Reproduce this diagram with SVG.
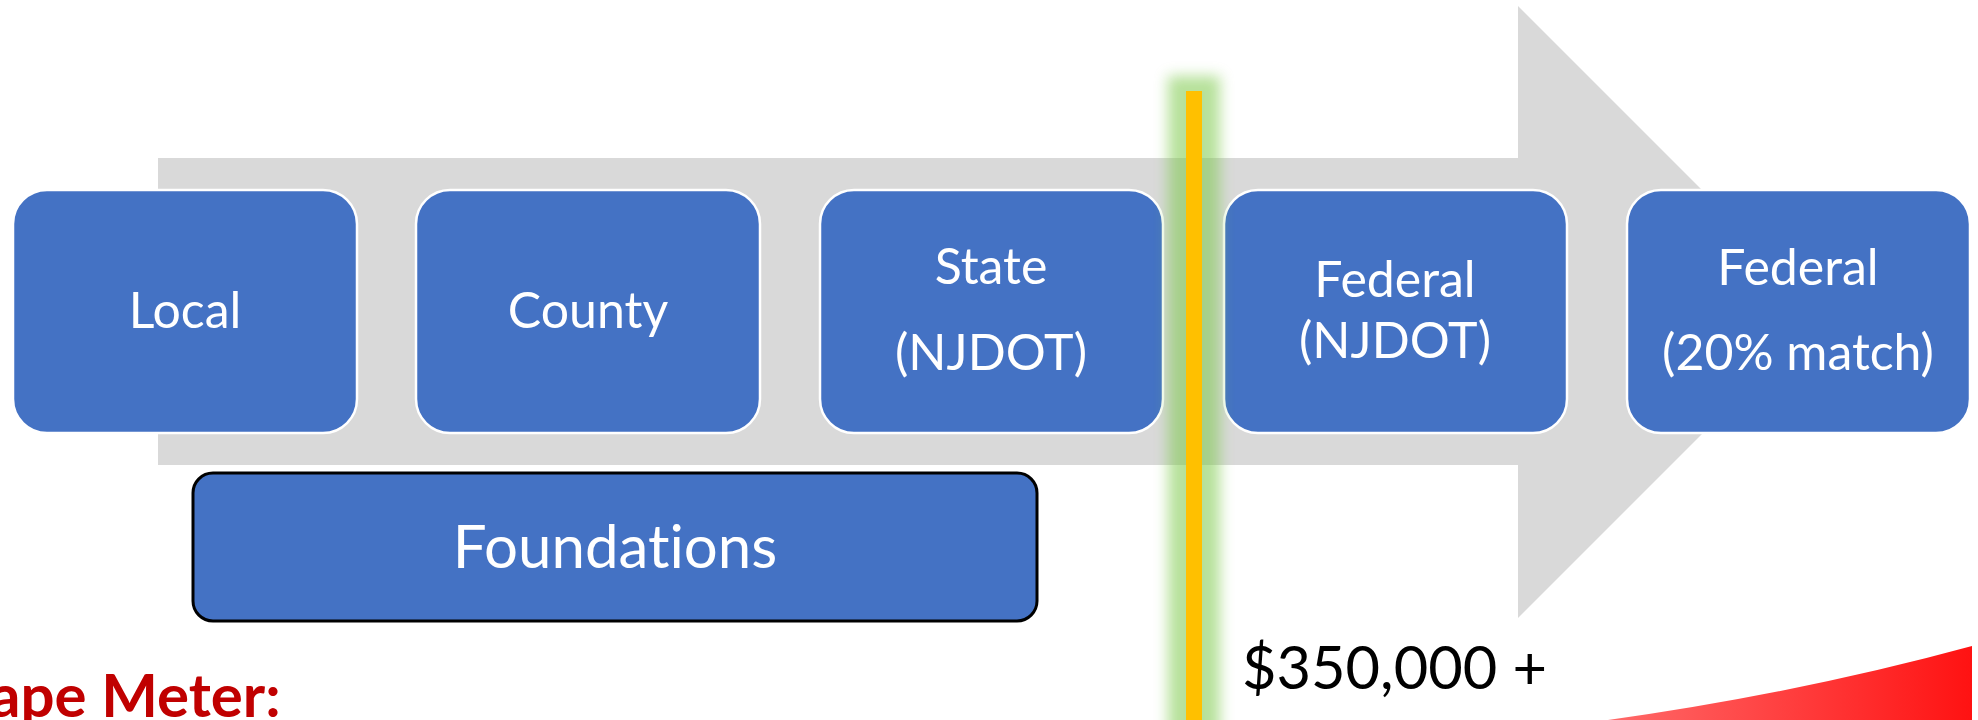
<svg xmlns="http://www.w3.org/2000/svg" width="1978" height="720" viewBox="0 0 1978 720">
<style>
.box{fill:#4472C4;stroke:#FFFFFF;stroke-width:2.5}
.fbox{fill:#4472C4;stroke:#000000;stroke-width:3}
.lbl{font-family:Lato,"Open Sans","Noto Sans",sans-serif;font-size:50px;fill:#FFFFFF;text-anchor:middle;font-variant-ligatures:none}
</style>
<defs>
<filter id="blur" x="-1" y="-0.2" width="3" height="1.4"><feGaussianBlur stdDeviation="7"/></filter>
<linearGradient id="red" x1="0" y1="0" x2="1" y2="0">
<stop offset="0" stop-color="#FF6A6A"/>
<stop offset="1" stop-color="#FF1212"/>
</linearGradient>
</defs>
<rect width="1978" height="720" fill="#FFFFFF"/>
<polygon id="arrow" points="158,158 1518,158 1518,6 1824,312 1518,618 1518,465 158,465" fill="#D9D9D9"/>
<g id="connectors"></g>
<g id="local"><rect class="box" x="13" y="190" width="344" height="243" rx="34"/><text class="lbl" x="185" y="328">Local</text></g>
<g id="county"><rect class="box" x="416" y="190" width="344" height="243" rx="34"/><text class="lbl" x="588" y="328">County</text></g>
<g id="state"><rect class="box" x="820" y="190" width="343" height="243" rx="34"/><text class="lbl" x="991" y="284">State</text><text class="lbl" x="991" y="370">(NJDOT)</text></g>
<g id="federal-njdot"><rect class="box" x="1224" y="190" width="343" height="243" rx="34"/><text class="lbl" x="1395" y="297">Federal</text><text class="lbl" x="1395" y="358">(NJDOT)</text></g>
<g id="federal-match"><rect class="box" x="1627" y="190" width="343" height="243" rx="34"/><text class="lbl" x="1798" y="285">Federal</text><text class="lbl" x="1798" y="370">(20% match)</text></g>
<g id="foundations"><rect class="fbox" x="193" y="473" width="844" height="148" rx="20"/><text class="lbl" x="615" y="568" style="font-size:60px">Foundations</text></g>
<g id="threshold">
<rect x="1168" y="76" width="52" height="660" fill="#7CC94A" opacity="0.55" filter="url(#blur)"/>
<rect x="1186" y="91" width="16" height="629" fill="#FFC000"/>
</g>
<text x="1242" y="689" font-family="Lato,'Open Sans',sans-serif" font-size="60" fill="#000000" textLength="305" lengthAdjust="spacingAndGlyphs">$350,000 +</text>
<path d="M1608,720 Q1800,693 1972,646 L1972,720 Z" fill="url(#red)"/>
<text x="-10" y="717" font-family="Lato,'Open Sans',sans-serif" font-weight="bold" font-size="60" fill="#C00000">ape Meter:</text>
</svg>
